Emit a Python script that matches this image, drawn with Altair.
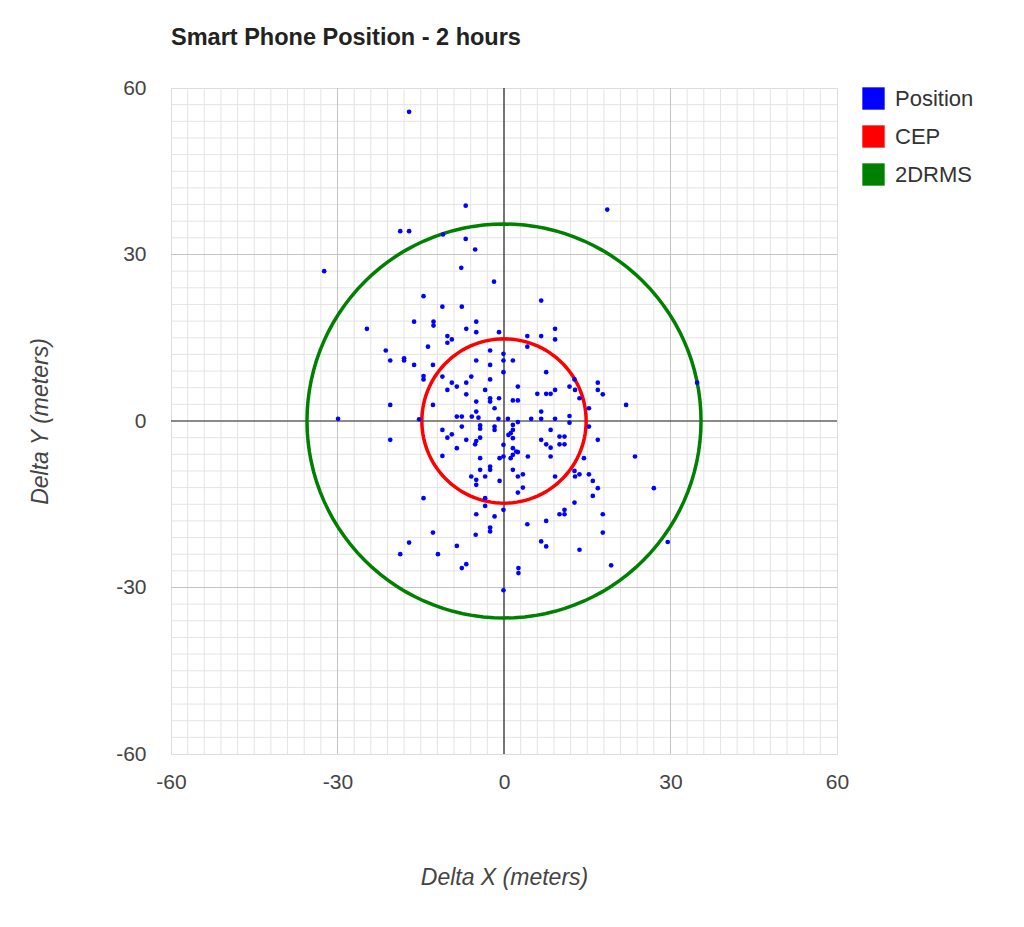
import altair as alt
import pandas as pd

# ---- data ----
pos_x = [
    -17.1, -6.9, -18.7, -17.1, -11.0, -6.9, -5.2, -32.4, -7.7, -1.8,
    -14.5, -11.1, -7.6, -16.2, -12.7, -12.7, -5.0, -24.7, -6.8, -5.0,
    -0.9, -10.2, -9.4, -10.2, -13.7, -21.3, -2.5, -20.5, -18.0, -18.0,
    -16.2, -12.8, -5.0, -2.5, -14.5, -14.5, -11.1, -5.9, -2.5, -9.4,
    -6.8, -8.5, -10.2, -3.4, -6.8, -2.5, -0.9, -5.0, -20.5, -12.8,
    -2.5, -1.7, -5.0,
    -29.9, -15.3, -8.5, -7.6, -5.8, -4.6, -1.0,
    -0.1, -0.1, -0.1,
    18.6, 6.7, 9.2, 9.2, 6.7, 4.2, 4.2, 1.6, 7.6, 2.5,
    1.6, 2.5, 6.0, 7.6, 8.4, 9.2, 11.8, 12.7, 12.8, 13.6,
    15.3, 16.9, 16.9, 17.8, 22.0, 6.7, 11.8, 11.8, 34.8,
    0.7, 2.5, 4.9, 6.7, 9.2,
    -4.3, -4.3, -11.1, -7.6, -1.7, -1.7, -20.5, -9.4, -10.2, -6.8,
    -5.0, -4.3, -5.2, -8.5, -0.1, 0.8, -11.1, -4.3, -0.8, -0.1,
    -2.5, -2.5, -4.3, -5.9, -5.0, -5.0, -3.4, -0.8, -14.5, -3.4,
    -3.4, -0.1, -5.0, -1.7, -2.5, -2.5, -5.1, -12.8, -17.1, -8.5,
    -18.7, -11.9, -6.8, -7.6, -0.1,
    15.3, 1.6, 1.6, 1.2, 1.6, 8.4, 6.7, 7.6, 8.4, 10.0,
    10.9, 10.0, 10.9, 16.9, 1.6, 2.2, 1.2, 1.6, 2.5, 4.3,
    8.4, 14.4, 23.6, 1.6, 2.5, 3.4, 9.2, 12.7, 12.8, 13.6,
    15.3, 16.0, 16.9, 16.0, 3.4, 2.5, 12.7, 10.9, 10.0, 10.9,
    17.8, 17.8, 4.2, 7.6, 6.7, 7.6, 13.6, 27.0, 29.5, 19.3,
    2.6, 2.6,
]
pos_y = [
    55.7, 38.8, 34.2, 34.2, 33.6, 32.8, 30.9, 27.0, 27.6, 25.1,
    22.5, 20.6, 20.6, 17.9, 17.9, 17.2, 17.9, 16.6, 16.6, 16.0,
    16.0, 15.3, 14.7, 14.1, 13.4, 12.7, 12.7, 10.9, 11.3, 10.9,
    10.1, 10.1, 10.9, 10.1, 8.1, 7.5, 8.0, 8.0, 7.5, 6.9,
    6.9, 6.2, 5.6, 5.6, 4.8, 4.1, 4.1, 3.5, 2.9, 2.9,
    3.5, 2.3, 1.7,
    0.4, 0.3, 0.8, 0.8, 0.8, 0.6, 0.4,
    12.1, 10.9, 8.8,
    38.1, 21.7, 16.6, 14.7, 15.3, 15.3, 13.4, 10.9, 8.8, 6.2,
    3.7, 3.7, 4.9, 4.9, 4.9, 5.6, 6.2, 7.5, 5.6, 4.1,
    2.3, 6.9, 5.6, 4.8, 2.9, 1.7, 0.9, -0.3, 6.9,
    0.4, -0.2, 0.4, 0.4, 0.4,
    -0.8, -1.4, -1.6, -1.0, -1.0, -1.6, -3.4, -2.4, -3.0, -3.4,
    -3.6, -3.0, -4.2, -4.9, -4.3, -2.5, -6.3, -6.7, -6.7, -6.4,
    -8.2, -8.8, -8.8, -10.0, -10.6, -11.5, -10.0, -10.8, -13.9, -13.9,
    -15.3, -16.0, -16.8, -17.2, -19.2, -19.9, -20.5, -20.1, -21.9, -22.5,
    -24.0, -24.0, -25.8, -26.5, -30.5,
    -1.0, -0.7, -1.6, -2.2, -3.1, -1.6, -3.4, -4.2, -4.8, -2.8,
    -2.8, -4.2, -4.2, -3.4, -4.9, -5.5, -6.7, -6.1, -5.6, -6.4,
    -6.4, -6.7, -6.4, -8.8, -10.0, -9.6, -10.0, -9.0, -10.0, -9.6,
    -9.6, -10.8, -12.1, -13.5, -12.0, -12.9, -14.7, -16.0, -16.8, -16.8,
    -16.8, -20.1, -18.6, -18.0, -21.7, -22.6, -23.2, -12.1, -21.8, -26.0,
    -26.5, -27.4,
]
series_names = ["Position", "CEP", "2DRMS"]
series_colors = ["#0000ff", "#ff0000", "#008000"]
circle_names = ["CEP", "2DRMS"]
circle_radii = [14.8, 35.5]
circle_angles = list(range(0, 361, 3))
tick_labels = [-60, -30, 0, 30, 60]
minor_grid = list(range(-57, 58, 3))
major_grid = [-30, 30]
zero_line = [0]

FONT = "Liberation Sans"

pts = pd.DataFrame({"x": pos_x, "y": pos_y, "series": "Position"})
circ = pd.DataFrame(
    [{"series": s, "r": r, "a": a} for s, r in zip(circle_names, circle_radii) for a in circle_angles]
)
minor_df = pd.DataFrame({"v": minor_grid})
major_df = pd.DataFrame({"v": major_grid})
zero_df = pd.DataFrame({"v": zero_line})

xsc = alt.Scale(domain=[-60, 60], nice=False, zero=False)
ysc = alt.Scale(domain=[-60, 60], nice=False, zero=False)

label_expr = "'' + datum.value"

x_axis = alt.Axis(
    values=tick_labels, labelExpr=label_expr, grid=False,
    ticks=False, domain=False, labelFontSize=21, labelColor="#444", labelFont=FONT,
    labelPadding=17, labelOverlap=False, labelFlush=False,
    title="Delta X (meters)", titleFont=FONT, titleFontSize=23, titleFontStyle="italic",
    titleFontWeight="normal", titleColor="#444", titlePadding=74,
)
y_axis = alt.Axis(
    values=tick_labels, labelExpr=label_expr, grid=False,
    ticks=False, domain=False, labelFontSize=21, labelColor="#444", labelFont=FONT,
    labelPadding=25, labelOverlap=False, labelFlush=False,
    title="Delta Y (meters)", titleFont=FONT, titleFontSize=23, titleFontStyle="italic",
    titleFontWeight="normal", titleColor="#444", titlePadding=63,
)

color = alt.Color(
    "series:N",
    scale=alt.Scale(domain=series_names, range=series_colors),
    legend=alt.Legend(
        title=None, orient="none", legendX=691, legendY=-1, symbolType="square",
        symbolSize=500, symbolStrokeWidth=0, symbolOpacity=1, labelFontSize=22,
        labelFont=FONT, labelColor="#333", rowPadding=15, labelOffset=10, padding=0,
    ),
)

base_axes = alt.Chart(pts).mark_point(opacity=0).encode(
    x=alt.X("x:Q", scale=xsc, axis=x_axis),
    y=alt.Y("y:Q", scale=ysc, axis=y_axis),
)

minor_x = alt.Chart(minor_df).mark_rule(color="#e4e4e4", strokeWidth=1).encode(x=alt.X("v:Q", scale=xsc))
minor_y = alt.Chart(minor_df).mark_rule(color="#e4e4e4", strokeWidth=1).encode(y=alt.Y("v:Q", scale=ysc))
major_x = alt.Chart(major_df).mark_rule(color="#c4c4c4", strokeWidth=1).encode(x=alt.X("v:Q", scale=xsc))
major_y = alt.Chart(major_df).mark_rule(color="#c4c4c4", strokeWidth=1).encode(y=alt.Y("v:Q", scale=ysc))
zero_x = alt.Chart(zero_df).mark_rule(color="#222222", strokeWidth=1.2).encode(x=alt.X("v:Q", scale=xsc))
zero_y = alt.Chart(zero_df).mark_rule(color="#222222", strokeWidth=1.2).encode(y=alt.Y("v:Q", scale=ysc))

circles = alt.Chart(circ).transform_calculate(
    cx="datum.r * cos(datum.a * PI / 180)",
    cy="datum.r * sin(datum.a * PI / 180)",
).mark_line(strokeWidth=3.5).encode(
    x=alt.X("cx:Q", scale=xsc),
    y=alt.Y("cy:Q", scale=ysc),
    color=color,
    detail="series:N",
    order="a:Q",
)

points = alt.Chart(pts).mark_circle(size=22, opacity=1).encode(
    x=alt.X("x:Q", scale=xsc),
    y=alt.Y("y:Q", scale=ysc),
    color=color,
)

chart = alt.layer(
    base_axes, minor_x, minor_y, major_x, major_y, zero_x, zero_y, circles, points
).properties(
    width=666, height=666,
    padding={"left": 163, "top": 80, "right": 178, "bottom": 150},
    autosize=alt.AutoSizeParams(type="none"),
    title=alt.TitleParams(
        "Smart Phone Position - 2 hours", anchor="start", frame="group", fontSize=23.5,
        fontWeight="bold", font=FONT, color="#222", offset=28,
    ),
).configure_view(stroke="#c4c4c4", strokeWidth=1).configure(background="white")

chart.save("out.html", embed_options={"renderer": "svg", "actions": False})
